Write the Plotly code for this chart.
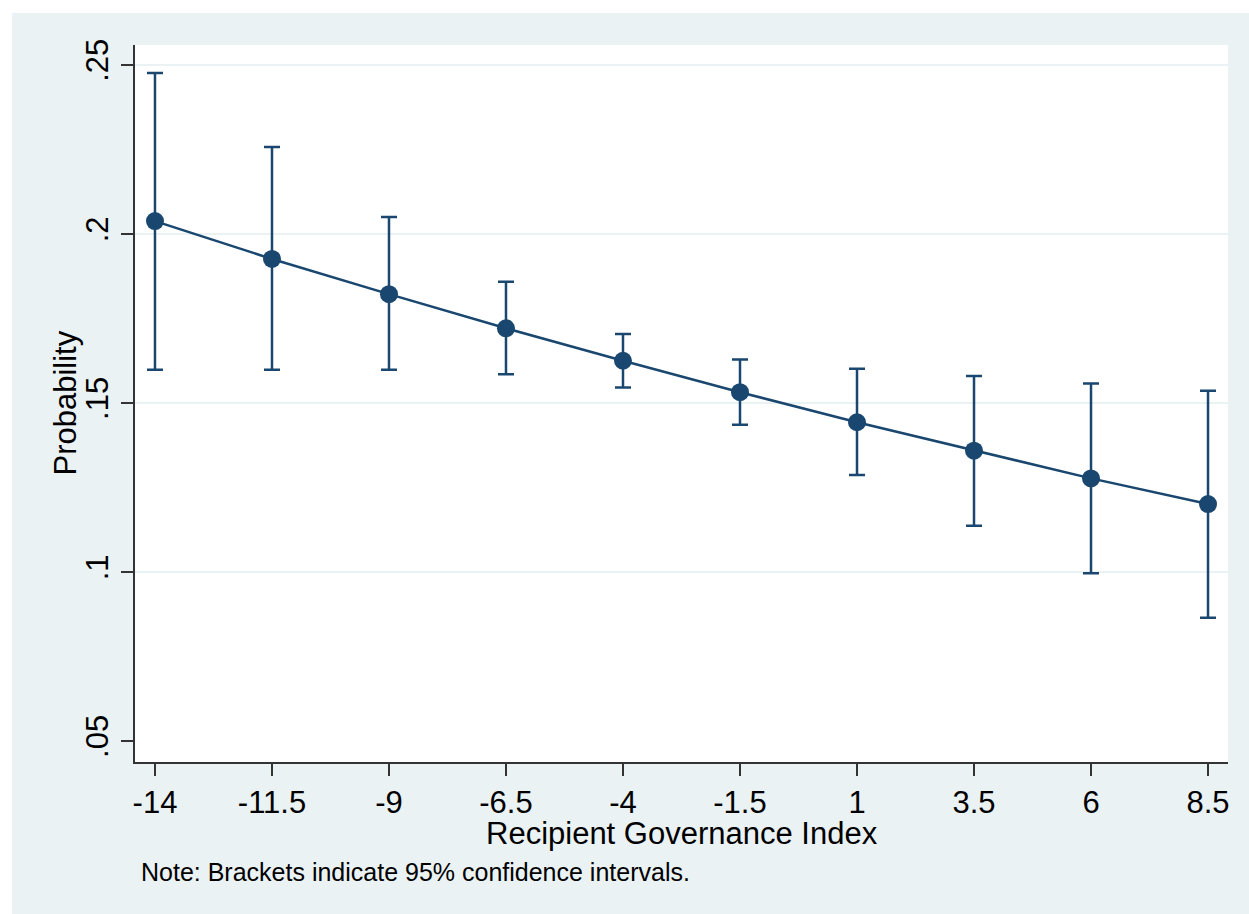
import plotly.graph_objects as go

# ---- data ----
governance = [-14, -11.5, -9, -6.5, -4, -1.5, 1, 3.5, 6, 8.5]
probability = [0.2038, 0.1926, 0.1822, 0.1721, 0.1625, 0.1532, 0.1443, 0.1359, 0.1277, 0.1201]
ci_upper = [0.2476, 0.2257, 0.2050, 0.1859, 0.1704, 0.1629, 0.1601, 0.1580, 0.1558, 0.1536]
ci_lower = [0.1598, 0.1598, 0.1598, 0.1585, 0.1546, 0.1436, 0.1287, 0.1137, 0.0996, 0.0865]
x_ticks = [-14, -11.5, -9, -6.5, -4, -1.5, 1, 3.5, 6, 8.5]
x_ticklabels = ["-14", "-11.5", "-9", "-6.5", "-4", "-1.5", "1", "3.5", "6", "8.5"]
y_ticks = [0.05, 0.10, 0.15, 0.20, 0.25]
y_ticklabels = [".05", ".1", ".15", ".2", ".25"]
grid_vals = [0.10, 0.15, 0.20, 0.25]

NAVY = "#1a476f"
BG = "#EAF2F3"
AXIS = "#333333"
FONT = "Arial, Liberation Sans, sans-serif"

err_plus = [u - p for u, p in zip(ci_upper, probability)]
err_minus = [p - l for p, l in zip(probability, ci_lower)]

fig = go.Figure()
fig.add_trace(go.Scatter(
    x=governance, y=probability, mode="lines+markers",
    line=dict(color=NAVY, width=2.5),
    marker=dict(color=NAVY, size=18, line=dict(width=0)),
    error_y=dict(type="data", symmetric=False, array=err_plus, arrayminus=err_minus,
                 color=NAVY, thickness=2.5, width=8),
    showlegend=False,
))

shapes = []
for g in grid_vals:
    shapes.append(dict(type="line", xref="paper", yref="y", x0=0, x1=1, y0=g, y1=g,
                       line=dict(color=BG, width=2), layer="below"))
# white strips at top and left of the canvas (outside the grey graph region)
shapes.append(dict(type="rect", xref="paper", yref="paper", x0=-0.2, x1=1.2, y0=1.0446, y1=1.2,
                   fillcolor="white", line=dict(width=0), layer="below"))
shapes.append(dict(type="rect", xref="paper", yref="paper", x0=-0.2, x1=-0.1125, y0=-0.5, y1=1.2,
                   fillcolor="white", line=dict(width=0), layer="below"))

fig.update_layout(
    width=1249, height=914,
    margin=dict(l=135, r=21, t=45, b=152),
    paper_bgcolor=BG, plot_bgcolor="white",
    font=dict(family=FONT, size=31, color="black"),
    shapes=shapes,
    xaxis=dict(
        range=[-14.427, 8.927], tickvals=x_ticks, ticktext=x_ticklabels,
        showgrid=False, zeroline=False, showline=True, linecolor=AXIS, linewidth=2,
        ticks="outside", ticklen=12, tickwidth=2, tickcolor=AXIS,
        tickfont=dict(size=31), ticklabelstandoff=0,
    ),
    yaxis=dict(
        range=[0.0438, 0.2559], tickvals=y_ticks, ticktext=y_ticklabels,
        showgrid=False, zeroline=False, showline=True, linecolor=AXIS, linewidth=2,
        ticks="outside", ticklen=12, tickwidth=2, tickcolor=AXIS,
        tickangle=-90, tickfont=dict(size=31), ticklabelstandoff=1,
    ),
    annotations=[
        dict(text="Recipient Governance Index",
             xref="paper", yref="paper", x=0.5, y=-0.1004, xanchor="center", yanchor="middle",
             showarrow=False, font=dict(size=31, color="black")),
        dict(text="Probability", textangle=-90,
             xref="paper", yref="paper", x=-0.064, y=0.5, xanchor="center", yanchor="middle",
             showarrow=False, font=dict(size=31, color="black")),
        dict(text="Note: Brackets indicate 95% confidence intervals.",
             xref="paper", yref="paper", x=0.0037, y=-0.1534, xanchor="left", yanchor="middle",
             showarrow=False, font=dict(size=25, color="black")),
    ],
)

fig.write_html("out.html")
